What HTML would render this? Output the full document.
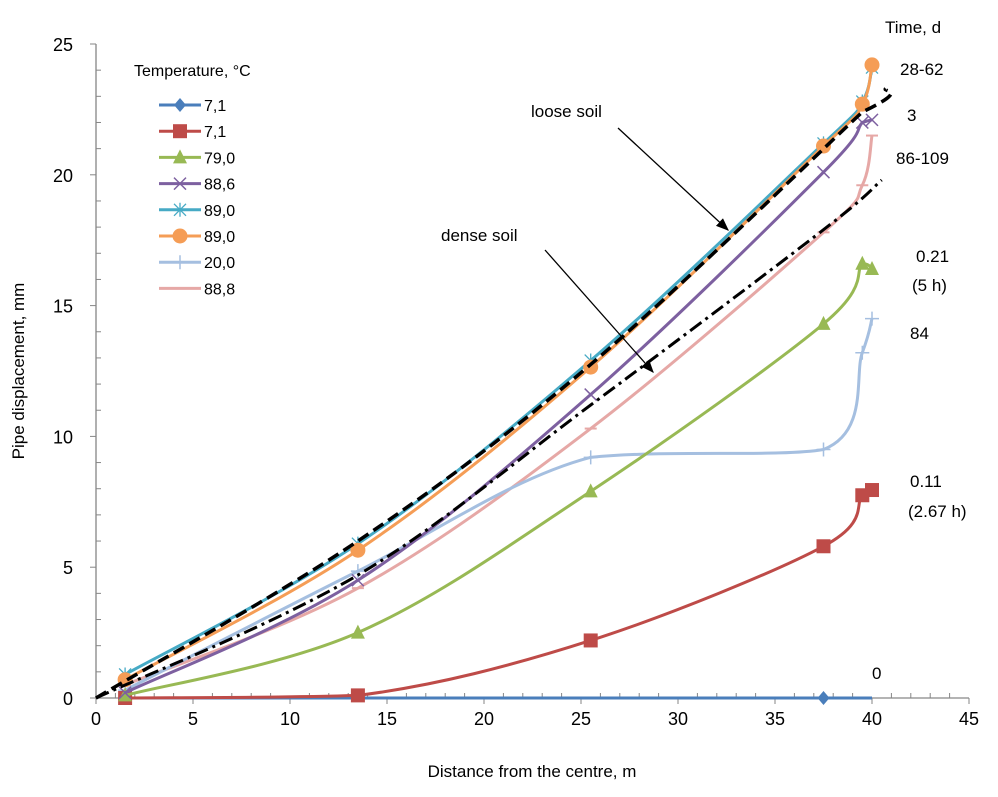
<!DOCTYPE html>
<html><head><meta charset="utf-8"><style>
body{margin:0;background:#fff;}
svg text{font-family:"Liberation Sans",sans-serif;fill:#000;}
</style></head><body>
<svg id="chart" width="998" height="792" xmlns="http://www.w3.org/2000/svg">
<g id="axes"></g><g id="plot"></g><g id="legend"></g><g id="notes"></g>
</svg>
<script>
const xVals=[1.5,13.5,25.5,37.5,39.5,40];
const sBlue=[0,0,0,0,0,0];
const sRed=[0,0.1,2.2,5.8,7.75,7.95];
const sGreen=[0.1,2.5,7.9,14.3,16.6,16.4];
const sPurple=[0.2,4.5,11.6,20.1,22.0,22.1];
const sCyan=[0.9,5.9,12.9,21.2,22.8,24.1];
const sOrange=[0.7,5.65,12.65,21.1,22.7,24.2];
const sLight=[0.3,4.85,9.2,9.5,13.2,14.5];
const sPink=[0.5,4.2,10.3,17.8,19.6,21.5];
const looseX=[0,13.5,25.5,39.5,40.7];
const looseY=[0,6.0,12.75,22.4,23.3];
const denseX=[0,13.5,25.5,37.5,40.5];
const denseY=[0,4.7,11.2,17.9,19.8];
const xTicks=[0,5,10,15,20,25,30,35,40,45];
const yTicks=[0,5,10,15,20,25];
const legendLabels=["7,1","7,1","79,0","88,6","89,0","89,0","20,0","88,8"];

const NS="http://www.w3.org/2000/svg";
const X=v=>96+v*19.4, Y=v=>698-v*26.16;
function mk(tag,attrs,parent){const e=document.createElementNS(NS,tag);for(const k in attrs)e.setAttribute(k,attrs[k]);parent.appendChild(e);return e;}
const axes=document.getElementById('axes'),plot=document.getElementById('plot'),leg=document.getElementById('legend'),notes=document.getElementById('notes');
let a=mk('line',{x1:96,y1:44,x2:96,y2:698,stroke:'#868686','stroke-width':1.3},axes);

a=mk('line',{x1:96,y1:698,x2:969,y2:698,stroke:'#868686','stroke-width':1.3},axes);

for(let i=0;i<=45;i++){mk('line',{x1:X(i),y1:698,x2:X(i),y2:(i%5?693:704),stroke:'#868686'},axes);}
for(let i=0;i<=25;i++){mk('line',{x1:96,y1:Y(i),x2:(i%5?101:90),y2:Y(i),stroke:'#868686'},axes);}
xTicks.forEach(v=>{const t=mk('text',{x:X(v),y:725,'text-anchor':'middle','font-size':18},axes);t.textContent=v;
});
yTicks.forEach(v=>{const t=mk('text',{x:73,y:Y(v)+7,'text-anchor':'end','font-size':18},axes);t.textContent=v;
});
let t=mk('text',{x:532,y:777,'text-anchor':'middle','font-size':17},axes);t.textContent='Distance from the centre, m';

t=mk('text',{x:0,y:0,'text-anchor':'middle','font-size':17,transform:'translate(24,371) rotate(-90)'},axes);t.textContent='Pipe displacement, mm';


function spline(pts){let d='M'+pts[0][0]+','+pts[0][1];
for(let i=0;i<pts.length-1;i++){const p0=pts[Math.max(0,i-1)],p1=pts[i],p2=pts[i+1],p3=pts[Math.min(pts.length-1,i+2)];
const lo=Math.min(p1[1],p2[1]),hi=Math.max(p1[1],p2[1]),cl=v=>Math.max(lo,Math.min(hi,v));
const c1=[p1[0]+(p2[0]-p0[0])/6,cl(p1[1]+(p2[1]-p0[1])/6)],c2=[p2[0]-(p3[0]-p1[0])/6,cl(p2[1]-(p3[1]-p1[1])/6)];
d+=' C'+c1+' '+c2+' '+p2;}return d;}
function marker(type,x,y,c,g){
 if(type==='diamond')mk('path',{d:`M${x},${y-7}L${x+6},${y}L${x},${y+7}L${x-6},${y}Z`,fill:c},g);
 else if(type==='square')mk('rect',{x:x-7,y:y-7,width:14,height:14,fill:c},g);
 else if(type==='tri')mk('path',{d:`M${x},${y-8}L${x+7},${y+6}L${x-7},${y+6}Z`,fill:c},g);
 else if(type==='x')mk('path',{d:`M${x-6},${y-6}L${x+6},${y+6}M${x-6},${y+6}L${x+6},${y-6}`,stroke:c,'stroke-width':1.5},g);
 else if(type==='star')mk('path',{d:`M${x-6},${y-6}L${x+6},${y+6}M${x-6},${y+6}L${x+6},${y-6}M${x},${y-7}L${x},${y+7}`,stroke:c,'stroke-width':1.3},g);
 else if(type==='circle')mk('circle',{cx:x,cy:y,r:7.5,fill:c},g);
 else if(type==='plus')mk('path',{d:`M${x-7},${y}L${x+7},${y}M${x},${y-7}L${x},${y+7}`,stroke:c,'stroke-width':1.5},g);
 else if(type==='dash')mk('path',{d:`M${x-6},${y}L${x+6},${y}`,stroke:c,'stroke-width':2},g);
}
const series=[
 ['series-7-1-a',sBlue,'#4a7ebb','diamond'],['series-7-1-b',sRed,'#be4b48','square'],['series-79-0',sGreen,'#98b954','tri'],
 ['series-88-6',sPurple,'#7d60a0','x'],['series-89-0-a',sCyan,'#46aac5','star'],['series-89-0-b',sOrange,'#f59d56','circle'],
 ['series-20-0',sLight,'#a5bfe0','plus'],['series-88-8',sPink,'#e6a8a6','dash']];
const draw=['series-88-8','series-20-0','series-7-1-a','series-7-1-b','series-79-0','series-88-6','series-89-0-a','series-89-0-b'];
draw.forEach(n=>{const s=series.find(q=>q[0]===n);const g=mk('g',{},plot);

const pts=xVals.map((x,i)=>[X(x),Y(s[1][i])]);
mk('path',{d:spline(pts),fill:'none',stroke:s[2],'stroke-width':3},g);
pts.forEach((p,i)=>{if(n==='series-7-1-a'&&i!==3)return;marker(s[3],p[0],p[1],s[2],g);});});
let g=mk('g',{},plot);
mk('path',{d:spline(looseX.map((x,i)=>[X(x),Y(looseY[i])])),fill:'none',stroke:'#000','stroke-width':3.5,'stroke-dasharray':'12,6'},g);
g=mk('g',{},plot);
mk('path',{d:spline(denseX.map((x,i)=>[X(x),Y(denseY[i])])),fill:'none',stroke:'#000','stroke-width':3,'stroke-dasharray':'14,5,3,5'},g);

t=mk('text',{x:134,y:76,'font-size':16},leg);t.textContent='Temperature, °C';

series.forEach((s,i)=>{const y=105+i*26.2;const e=mk('g',{},leg);

mk('line',{x1:159,y1:y,x2:201,y2:y,stroke:s[2],'stroke-width':3},e);marker(s[3],180,y,s[2],e);
const tt=mk('text',{x:204,y:y+6,'font-size':16},e);tt.textContent=legendLabels[i];});

const notesArr=[['time-label','Time, d',885,33],['label-28-62','28-62',900,75],['label-3','3',907,121],['label-86-109','86-109',896,164],
['label-0-21','0.21',916,262],['label-5h','(5 h)',912,291],['label-84','84',910,339],['label-0-11','0.11',910,487],['label-2-67h','(2.67 h)',908,517],
['label-0','0',872,679],['loose-soil-label','loose soil',531,117],['dense-soil-label','dense soil',441,241]];
notesArr.forEach(n=>{const tt=mk('text',{x:n[2],y:n[3],'font-size':17},notes);tt.textContent=n[1];
});
mk('defs',{},notes).innerHTML='<marker id="ah" markerWidth="10" markerHeight="8" refX="9" refY="4" orient="auto"><path d="M0,0L10,4L0,8Z" fill="#000"/></marker>';
g=mk('line',{x1:618,y1:128,x2:728,y2:230,stroke:'#000','stroke-width':1.3,'marker-end':'url(#ah)'},notes);

g=mk('line',{x1:545,y1:250,x2:653,y2:372,stroke:'#000','stroke-width':1.3,'marker-end':'url(#ah)'},notes);

</script>
</body></html>
